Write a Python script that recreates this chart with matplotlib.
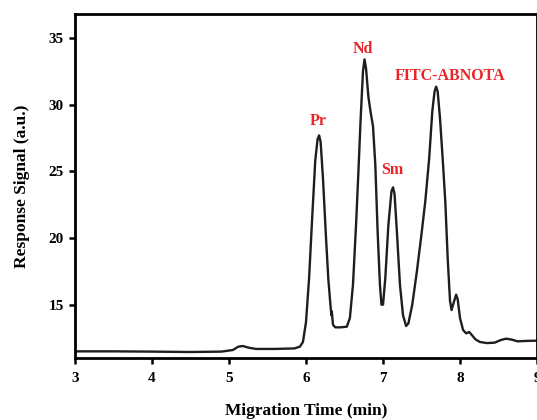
import matplotlib
matplotlib.use('Agg')
from matplotlib import pyplot as plt

# migration time (min) and response signal
time_min = [3.0, 3.5, 4.0, 4.5, 4.9, 5.05, 5.12, 5.18, 5.25, 5.35, 5.6, 5.85, 5.92, 5.96,
            6.0, 6.04, 6.08, 6.12, 6.15, 6.17, 6.19, 6.22, 6.26, 6.29, 6.32, 6.33, 6.335, 6.35,
            6.38, 6.45, 6.53, 6.57, 6.61, 6.65, 6.68, 6.71, 6.74, 6.76, 6.78, 6.81, 6.84, 6.87,
            6.9, 6.93, 6.96, 6.98, 7.0, 7.03, 7.07, 7.11, 7.13, 7.15, 7.18, 7.22, 7.26, 7.3,
            7.33, 7.38, 7.44, 7.5, 7.55, 7.6, 7.64, 7.67, 7.69, 7.71, 7.74, 7.78, 7.81, 7.84,
            7.87, 7.89, 7.92, 7.95, 7.97, 8.0, 8.04, 8.08, 8.12, 8.15, 8.2, 8.26, 8.35, 8.45,
            8.53, 8.6, 8.67, 8.75, 8.85, 9.0]
signal = [11.5, 11.5, 11.48, 11.45, 11.48, 11.6, 11.85, 11.9, 11.78, 11.68, 11.68, 11.72, 11.85, 12.2,
          13.7, 17.0, 21.5, 25.8, 27.4, 27.7, 27.2, 24.5, 20.0, 16.9, 14.8, 14.2, 14.5, 13.5,
          13.3, 13.3, 13.35, 14.0, 16.5, 21.0, 24.9, 29.0, 32.5, 33.4, 32.7, 30.6, 29.4, 28.4,
          25.5, 20.5, 16.5, 15.0, 15.0, 17.0, 21.0, 23.5, 23.8, 23.3, 20.5, 16.5, 14.2, 13.4,
          13.6, 15.0, 17.5, 20.3, 22.8, 26.0, 29.5, 31.0, 31.35, 31.0, 29.0, 25.5, 22.6, 18.5,
          15.3, 14.6, 15.2, 15.75, 15.4, 14.0, 13.1, 12.85, 12.95, 12.75, 12.4, 12.2, 12.12, 12.15,
          12.35, 12.45, 12.38, 12.25, 12.28, 12.3]

peak_names = ['Pr', 'Nd', 'Sm', 'FITC-ABNOTA']
peak_label_x = [6.16, 6.74, 7.12, 7.87]
peak_label_y = [28.8, 34.2, 25.07, 32.16]

xticks = [3, 4, 5, 6, 7, 8, 9]
yticks = [15, 20, 25, 30, 35]

plt.rcParams['font.family'] = ['Liberation Serif', 'DejaVu Serif']
plt.rcParams['font.weight'] = 'bold'

fig = plt.figure(figsize=(5.37, 4.2), dpi=100)
ax = fig.add_axes([0.1397, 0.1476, 0.8603, 0.819])

ax.plot(time_min, signal, color='#1e1e1e', linewidth=1.7)

for name, lx, ly in zip(peak_names, peak_label_x, peak_label_y):
    ax.text(lx, ly, name, color='#e8262a', fontsize=11.5, fontweight='bold',
            ha='center', va='center')

ax.set_xlim(3, 9)
ax.set_ylim(11, 36.8)
ax.set_xticks(xticks)
ax.set_yticks(yticks)
ax.tick_params(direction='out', length=4, width=1.8, labelsize=11, pad=4)
ax.tick_params(axis='x', pad=6)
for lab in ax.get_xticklabels() + ax.get_yticklabels():
    lab.set_fontweight('bold')
for sp in ax.spines.values():
    sp.set_linewidth(2)

ax.set_xlabel('Migration Time (min)', fontsize=12.5, fontweight='bold', labelpad=13)
ax.set_ylabel('Response Signal (a.u.)', fontsize=12.5, fontweight='bold', labelpad=13)

plt.savefig('out.png', dpi=100)
